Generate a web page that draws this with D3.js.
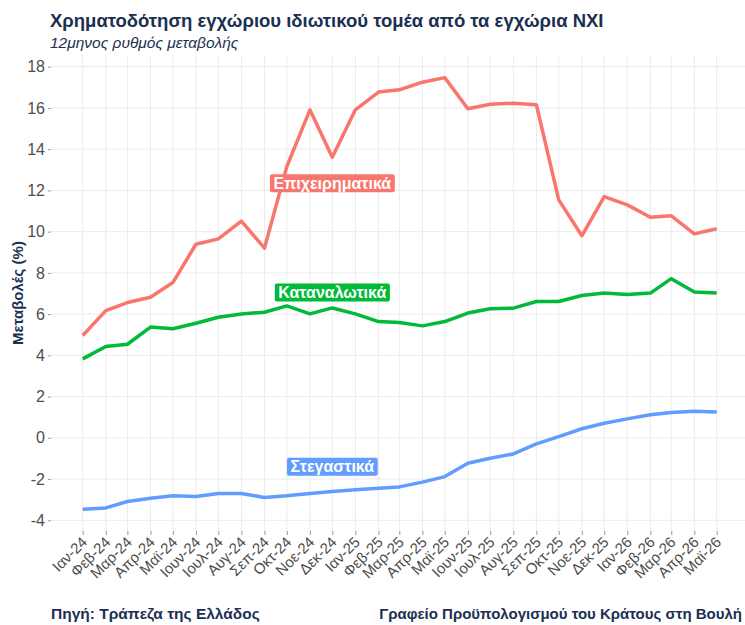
<!DOCTYPE html>
<html>
<head>
<meta charset="utf-8">
<script src="https://cdn.jsdelivr.net/npm/d3@7"></script>
<style>
	body { margin: 0; background: #fff; }
	svg { display: block; font-family: "Liberation Sans", Arial, sans-serif; }
</style>
</head>
<body>
<svg id="chart" width="745" height="625"></svg>
<script>
// months shown on the x axis (one point per month)
const months = [
	"2024-01", "2024-02", "2024-03", "2024-04", "2024-05", "2024-06",
	"2024-07", "2024-08", "2024-09", "2024-10", "2024-11", "2024-12",
	"2025-01", "2025-02", "2025-03", "2025-04", "2025-05", "2025-06",
	"2025-07", "2025-08", "2025-09", "2025-10", "2025-11", "2025-12",
	"2026-01", "2026-02", "2026-03", "2026-04", "2026-05",
];
const monthNames = ["Ιαν", "Φεβ", "Μαρ", "Απρ", "Μαϊ", "Ιουν", "Ιουλ", "Αυγ", "Σεπ", "Οκτ", "Νοε", "Δεκ"];

// 12-month growth rates (%)
const business = [
	4.96, 6.17, 6.56, 6.82, 7.53, 9.39, 9.65, 10.51, 9.2, 13.16, 15.91, 13.61,
	15.91, 16.77, 16.88, 17.25, 17.47, 15.96, 16.18, 16.23, 16.15, 11.54, 9.8, 11.7,
	11.3, 10.7, 10.77, 9.89, 10.14,
];
const consumer = [
	3.83, 4.43, 4.54, 5.37, 5.29, 5.56, 5.85, 6.01, 6.09, 6.4, 6.01, 6.3,
	6.01, 5.64, 5.59, 5.43, 5.64, 6.05, 6.26, 6.29, 6.61, 6.61, 6.9, 7.02,
	6.95, 7.02, 7.72, 7.07, 7.02,
];
const housing = [
	-3.46, -3.4, -3.09, -2.93, -2.81, -2.85, -2.7, -2.7, -2.89, -2.81, -2.7, -2.6,
	-2.52, -2.44, -2.38, -2.15, -1.88, -1.23, -0.99, -0.78, -0.29, 0.06, 0.44, 0.71,
	0.92, 1.12, 1.23, 1.29, 1.25,
];

const seriesNames = ["Επιχειρηματικά", "Καταναλωτικά", "Στεγαστικά"];
const seriesColors = ["#F8766D", "#00BA38", "#619CFF"];
const labelMonth = "2024-12";
const labelValues = [12.35, 7.05, -1.4];
const yTicks = [-4, -2, 0, 2, 4, 6, 8, 10, 12, 14, 16, 18];

const svg = d3.select("#chart");
const navy = "#1b2f52";
const grey = "#4d4d4d";

const parse = d3.timeParse("%Y-%m");
const dates = months.map(parse);
const series = [business, consumer, housing];

const panel = { left: 51, right: 745, top: 55, bottom: 531 };

const x = d3.scaleTime()
	.domain(d3.extent(dates))
	.range([82.7, 716.7]);

const y = d3.scaleLinear()
	.domain([-4, 18])
	.range([520.3, 66.7]);

// grid
const grid = svg.append("g");
grid.selectAll("line.v")
	.data(dates)
	.join("line")
	.attr("x1", (d) => x(d))
	.attr("x2", (d) => x(d))
	.attr("y1", panel.top)
	.attr("y2", panel.bottom)
	.attr("stroke", "#ebebeb")
	.attr("stroke-width", 1);
grid.selectAll("line.h")
	.data(yTicks)
	.join("line")
	.attr("x1", panel.left)
	.attr("x2", panel.right)
	.attr("y1", (d) => y(d))
	.attr("y2", (d) => y(d))
	.attr("stroke", "#ebebeb")
	.attr("stroke-width", 1);

// y axis (plain hyphen for negatives, like the original)
const leftAxis = d3.axisLeft(y)
	.tickValues(yTicks)
	.tickFormat((d) => String(d))
	.tickSize(3)
	.tickPadding(3);
const ya = svg.append("g")
	.attr("transform", `translate(${panel.left},0)`)
	.call(leftAxis);
ya.select(".domain").remove();
ya.selectAll(".tick line").attr("stroke", "#333").attr("stroke-opacity", 0.5);
ya.selectAll(".tick text")
	.attr("fill", grey)
	.style("font-size", "16px")
	.style("font-family", "Liberation Sans, Arial, sans-serif");

// x axis
const bottomAxis = d3.axisBottom(x)
	.tickValues(dates)
	.tickSize(4)
	.tickFormat((d) => monthNames[d.getMonth()] + "-" + d3.timeFormat("%y")(d));
const xa = svg.append("g")
	.attr("transform", `translate(0,${panel.bottom})`)
	.call(bottomAxis);
xa.select(".domain").remove();
xa.selectAll(".tick line").attr("stroke", "#333").attr("stroke-opacity", 0.5);
xa.selectAll(".tick text")
	.attr("fill", grey)
	.style("font-size", "15px")
	.style("font-family", "Liberation Sans, Arial, sans-serif")
	.attr("text-anchor", "end")
	.attr("dy", 0)
	.attr("y", 0)
	.attr("transform", "translate(5,12) rotate(-45)");

// lines
const line = d3.line()
	.x((d, i) => x(dates[i]))
	.y((d) => y(d));

svg.append("g")
	.selectAll("path")
	.data(series)
	.join("path")
	.attr("fill", "none")
	.attr("stroke", (d, i) => seriesColors[i])
	.attr("stroke-width", 3.5)
	.attr("stroke-linejoin", "round")
	.attr("d", line);

// series labels
const lx = x(parse(labelMonth));
seriesNames.forEach((name, i) => {
	const g = svg.append("g").attr("transform", `translate(${lx},${y(labelValues[i])})`);
	const t = g.append("text")
		.attr("text-anchor", "middle")
		.attr("dy", "0.36em")
		.attr("fill", "white")
		.attr("font-weight", "bold")
		.style("font-size", "16px")
		.text(name);
	const bb = t.node().getBBox();
	g.insert("rect", "text")
		.attr("x", bb.x - 3.5)
		.attr("y", -9)
		.attr("width", bb.width + 7)
		.attr("height", 18)
		.attr("rx", 2)
		.attr("fill", seriesColors[i]);
});

// y axis title
svg.append("text")
	.attr("transform", `translate(23,${(panel.top + panel.bottom) / 2}) rotate(-90)`)
	.attr("text-anchor", "middle")
	.attr("fill", navy)
	.attr("font-weight", "bold")
	.style("font-size", "15px")
	.text("Μεταβολές (%)");

// titles
svg.append("text")
	.attr("x", 50)
	.attr("y", 27)
	.attr("fill", navy)
	.attr("font-weight", "bold")
	.style("font-size", "18.5px")
	.text("Χρηματοδότηση εγχώριου ιδιωτικού τομέα από τα εγχώρια ΝΧΙ");

svg.append("text")
	.attr("x", 50)
	.attr("y", 48)
	.attr("fill", navy)
	.attr("font-style", "italic")
	.style("font-size", "15.5px")
	.text("12μηνος ρυθμός μεταβολής");

// captions
svg.append("text")
	.attr("x", 51)
	.attr("y", 619)
	.attr("fill", navy)
	.attr("font-weight", "bold")
	.style("font-size", "15.5px")
	.text("Πηγή: Τράπεζα της Ελλάδος");

svg.append("text")
	.attr("x", 742)
	.attr("y", 619)
	.attr("text-anchor", "end")
	.attr("fill", navy)
	.attr("font-weight", "bold")
	.style("font-size", "15px")
	.text("Γραφείο Προϋπολογισμού του Κράτους στη Βουλή");
</script>
</body>
</html>
